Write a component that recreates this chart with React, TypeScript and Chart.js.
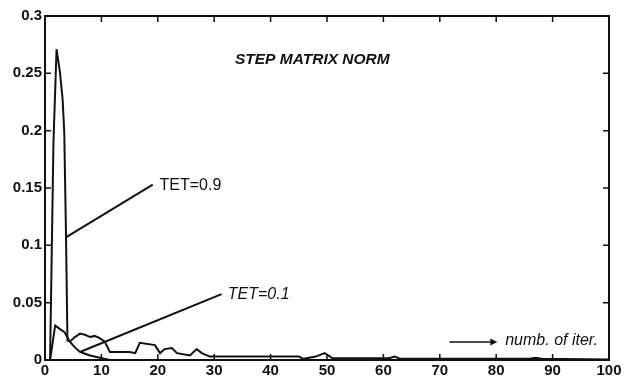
import { useEffect, useRef } from "react";
import { Chart, registerables } from "chart.js";

Chart.register(...registerables);

// TET = 0.9 : step matrix norm vs iteration number
const tet09Iter = [
  0.9, 1.5, 2.05, 2.65, 3.13, 3.42, 3.72, 3.98, 4.4, 5.3, 6.2, 7.1, 8.0, 8.8, 9.7, 10.6, 11.5,
  15.0, 16.0, 16.8, 19.5, 20.4, 21.2, 22.5, 23.4, 25.7, 26.9, 27.8, 29.2, 40.0, 45.0, 45.8,
  48.0, 49.6, 51.0, 61.0, 62.0, 63.0, 86.0, 87.0, 88.0, 100,
];
const tet09Norm = [
  0, 0.19, 0.271, 0.251, 0.227, 0.198, 0.11, 0.017, 0.016, 0.02, 0.023, 0.022, 0.02, 0.021,
  0.019, 0.016, 0.007, 0.007, 0.006, 0.015, 0.013, 0.006, 0.0095, 0.0105, 0.006, 0.004, 0.0095,
  0.006, 0.003, 0.003, 0.003, 0.001, 0.003, 0.006, 0.0015, 0.0015, 0.003, 0.001, 0.001, 0.002,
  0.001, 0.0005,
];

// TET = 0.1
const tet01Iter = [0.9, 1.8, 3.5, 4.4, 5.3, 6.2, 7.1, 8.0, 9.7, 11.5, 100];
const tet01Norm = [0, 0.03, 0.024, 0.016, 0.011, 0.007, 0.0055, 0.004, 0.002, 0, 0];

const xTicks = [0, 10, 20, 30, 40, 50, 60, 70, 80, 90, 100];
const yTicks = [0, 0.05, 0.1, 0.15, 0.2, 0.25, 0.3];

const INK = "#111";
const FONT = "'Liberation Sans', Arial, Helvetica, sans-serif";

const decor = {
  id: "decor",
  afterDatasetsDraw(chart: any) {
    const { ctx, chartArea: a, scales } = chart;
    const xs = scales.x;
    const ys = scales.y;
    const px = (v: number) => xs.getPixelForValue(v);
    const py = (v: number) => ys.getPixelForValue(v);
    ctx.save();
    ctx.strokeStyle = INK;
    ctx.fillStyle = INK;
    ctx.lineWidth = 2;
    // frame
    ctx.strokeRect(a.left, a.top, a.right - a.left, a.bottom - a.top);
    // inward ticks
    ctx.lineWidth = 1.5;
    const tl = 6;
    ctx.beginPath();
    for (const v of xTicks) {
      const x = px(v);
      ctx.moveTo(x, a.bottom);
      ctx.lineTo(x, a.bottom - tl);
      ctx.moveTo(x, a.top);
      ctx.lineTo(x, a.top + tl);
    }
    for (const v of yTicks) {
      const y = py(v);
      ctx.moveTo(a.left, y);
      ctx.lineTo(a.left + tl, y);
      ctx.moveTo(a.right, y);
      ctx.lineTo(a.right - tl, y);
    }
    ctx.stroke();

    // annotation leader lines
    ctx.lineWidth = 2;
    ctx.beginPath();
    ctx.moveTo(px(3.7), py(0.107));
    ctx.lineTo(px(19.1), py(0.153));
    ctx.moveTo(px(6.2), py(0.007));
    ctx.lineTo(px(31.3), py(0.0575));
    ctx.stroke();

    // arrow for x-axis description
    ctx.lineWidth = 1.5;
    ctx.beginPath();
    ctx.moveTo(px(71.7), py(0.0157));
    ctx.lineTo(px(79.0), py(0.0157));
    ctx.stroke();
    const ax = px(80.2);
    const ay = py(0.0157);
    ctx.beginPath();
    ctx.moveTo(ax, ay);
    ctx.lineTo(ax - 7, ay - 3.5);
    ctx.lineTo(ax - 7, ay + 3.5);
    ctx.closePath();
    ctx.fill();

    // texts
    ctx.textBaseline = "middle";
    ctx.textAlign = "center";
    ctx.font = `italic bold 15.5px ${FONT}`;
    ctx.fillText("STEP MATRIX NORM", px(47.4), py(0.262));
    ctx.textAlign = "left";
    ctx.font = `16px ${FONT}`;
    ctx.fillText("TET=0.9", px(20.3), py(0.152));
    ctx.font = `italic 16px ${FONT}`;
    ctx.fillText("TET=0.1", px(32.4), py(0.057));
    ctx.fillText("numb. of iter.", px(81.6), py(0.0174));
    ctx.restore();
  },
};

export default function App() {
  const ref = useRef<HTMLCanvasElement>(null);
  useEffect(() => {
    document.body.style.margin = "0";
    const canvas = ref.current!;
    const tickFont = { family: FONT, size: 15, weight: "bold" as const };
    const chart = new Chart(canvas, {
      type: "line",
      data: {
        datasets: [
          {
            label: "TET=0.9",
            data: tet09Iter.map((x, i) => ({ x, y: tet09Norm[i] })),
            borderColor: INK,
            borderWidth: 2,
            pointRadius: 0,
            tension: 0,
            fill: false,
          },
          {
            label: "TET=0.1",
            data: tet01Iter.map((x, i) => ({ x, y: tet01Norm[i] })),
            borderColor: INK,
            borderWidth: 2,
            pointRadius: 0,
            tension: 0,
            fill: false,
          },
        ],
      },
      options: {
        responsive: false,
        animation: false,
        layout: { padding: { top: 16, right: 17, left: 0, bottom: 0 } },
        plugins: {
          legend: { display: false },
          tooltip: { enabled: false },
          title: { display: false },
        },
        scales: {
          x: {
            type: "linear",
            min: 0,
            max: 100,
            afterBuildTicks: (s: any) => {
              s.ticks = xTicks.map((v) => ({ value: v }));
            },
            afterFit: (s: any) => {
              s.height = 21;
            },
            grid: { display: false, drawTicks: false },
            border: { display: false },
            ticks: {
              padding: 2,
              font: tickFont,
              color: INK,
              maxRotation: 0,
              autoSkip: false,
              callback: (v: any) => String(v),
            },
          },
          y: {
            type: "linear",
            min: 0,
            max: 0.3,
            afterBuildTicks: (s: any) => {
              s.ticks = yTicks.map((v) => ({ value: v }));
            },
            afterFit: (s: any) => {
              s.width = 45;
            },
            grid: { display: false, drawTicks: false },
            border: { display: false },
            ticks: {
              padding: 3,
              font: tickFont,
              color: INK,
              autoSkip: false,
              callback: (v: any) => String(+Number(v).toFixed(2)),
            },
          },
        },
      },
      plugins: [decor],
    });
    return () => chart.destroy();
  }, []);
  return (
    <div style={{ position: "fixed", left: 0, top: 0, width: 626, height: 381, background: "#fff" }}>
      <canvas ref={ref} width={626} height={381} style={{ display: "block" }} />
    </div>
  );
}
